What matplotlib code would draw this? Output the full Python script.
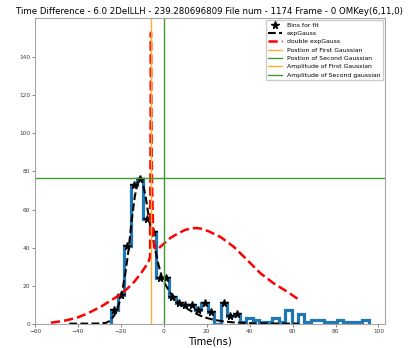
"""
Time difference histogram with expGauss and double expGauss fits.
"""

import numpy as np
import matplotlib
matplotlib.use("Agg")
import matplotlib.pyplot as plt
from matplotlib.lines import Line2D

TITLE = ("Time Difference - 6.0 2DelLLH - 239.280696809 File num - 1174 "
         "Frame - 0 OMKey(6,11,0)")

# histogram bins (ns) and counts
bin_edges = np.arange(-24.5, 96.0, 3.0)
counts = [7, 15, 41, 73, 76, 55, 48, 24, 24, 14,
          11, 10, 10, 7, 11, 6, 0, 11, 4, 5,
          1, 3, 2, 1, 1, 3, 1, 7, 0, 5,
          1, 2, 2, 1, 1, 2, 1, 1, 1, 2]

# bins used in the fit (up to 35 ns, non-empty)
fit_limit = 35.0

# expGauss fit curve
exp_t = [-44, -36, -30, -27, -25, -23, -21, -19.5, -18, -16.5, -15, -13.5,
         -12, -11, -10, -8.5, -7, -5.5, -4, -2.5, -1, 0.5, 2, 3.5,
         5, 7, 9, 11, 14, 17, 20, 23, 27, 32, 40, 50, 63]
exp_v = [0, 0, 0.1, 0.4, 1.5, 4.5, 10, 16, 26, 38, 54, 67,
         75, 77, 75, 67, 56, 47, 39, 31, 25, 21, 18, 15.5,
         13.5, 11, 9.3, 7.8, 5.8, 4.2, 3.0, 2.1, 1.3, 0.7, 0.25, 0.05, 0]

# double expGauss fit curve
dexp_t = [-52.6, -48, -44.8, -40, -35.5, -29.3, -23.1, -20, -16.9, -13.8,
          -10.7, -8.5, -7, -6.4, -6.2, -6.0, -5.8, -5.5, -5.0, -4.5,
          -3, -1.5, 0, 3, 6.4, 10, 12.6, 15, 17.2, 21, 26.5, 32.7,
          38.9, 45.1, 51.3, 57.5, 63.7]
dexp_v = [0.5, 1.2, 1.9, 3.3, 5.4, 8.9, 13.3, 15.5, 18.5, 22,
          26.4, 30, 33, 35, 90, 153, 115, 75, 50, 40,
          39, 40.5, 42, 45, 47.3, 49.3, 50, 50.3, 50, 48.5, 45.5, 40.3,
          33.4, 26.4, 21.1, 16.8, 12]

# fitted gaussian positions / amplitudes
pos_first = -6.0
pos_second = 0.0
amp_second = 76.5

GREEN = "#3f9b2e"
ORANGE = "#ffad33"

bin_centers = (bin_edges[:-1] + bin_edges[1:]) / 2
counts = np.array(counts)
fit_mask = (bin_centers < fit_limit) & (counts > 0)

fig = plt.figure(figsize=(4.09, 3.48), dpi=100)
ax = fig.add_axes([0.0856, 0.070, 0.855, 0.878])

ax.stairs(counts, bin_edges, color="#1f77b4", linewidth=2.3, baseline=0)

ax.plot(bin_centers[fit_mask], counts[fit_mask], "k*",
        markersize=5.5, label="Bins for fit")
ax.plot(exp_t, exp_v, "k--", linewidth=1.5, label="expGauss")
ax.plot(dexp_t, dexp_v, "r--", linewidth=1.8, label="double expGauss")

ax.axvline(pos_first, color=ORANGE, linewidth=1.0)
ax.axvline(pos_second, color=GREEN, linewidth=1.0)
ax.axhline(amp_second, color=GREEN, linewidth=1.0)

handles, labels = ax.get_legend_handles_labels()
handles += [
    Line2D([], [], color=ORANGE, linewidth=1.0),
    Line2D([], [], color=GREEN, linewidth=1.0),
    Line2D([], [], color=ORANGE, linewidth=1.0),
    Line2D([], [], color=GREEN, linewidth=1.0),
]
labels += [
    "Postion of First Gaussian",
    "Postion of Second Gaussian",
    "Amplitude of First Gaussian",
    "Amplitude of Second gaussian",
]
ax.legend(handles, labels, loc="upper right", fontsize=4.4,
          borderaxespad=0.3, handlelength=2.2, framealpha=1)

ax.set_xticks(np.arange(-60, 101, 20))
ax.set_yticks(np.arange(0, 141, 20))
ax.tick_params(labelsize=4.2, length=2, width=0.6, color="0.45",
               labelcolor="0.25", pad=1.5)
for spine in ax.spines.values():
    spine.set_color("0.65")
    spine.set_linewidth(0.8)

ax.set_title(TITLE, fontsize=6.2, pad=3)
ax.set_xlabel("Time(ns)", fontsize=7.2, labelpad=2)

fig.savefig("out.png", dpi=100)
plt.close(fig)
